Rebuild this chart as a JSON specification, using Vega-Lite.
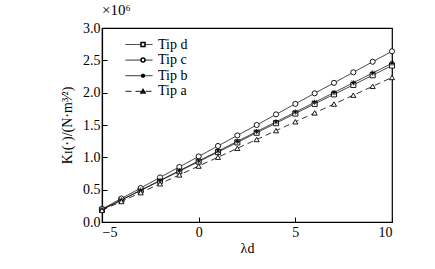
{
  "$schema": "https://vega.github.io/schema/vega-lite/v6.json",
  "width": 290,
  "height": 194,
  "autosize": "none",
  "padding": {"left": 102, "top": 28, "right": 43, "bottom": 47},
  "background": "white",
  "config": {
    "font": "Liberation Serif, Times New Roman, serif",
    "view": {"stroke": "black", "strokeWidth": 1.2},
    "title": {"font": "Liberation Serif, Times New Roman, serif", "fontSize": 15, "fontWeight": "normal", "color": "black"},
    "legend": {"labelFont": "Liberation Serif, Times New Roman, serif", "labelFontSize": 14, "labelColor": "black"},
    "axis": {"grid": false, "domainColor": "black", "tickColor": "black", "labelColor": "black", "titleColor": "black", "labelFont": "Liberation Serif, Times New Roman, serif", "titleFont": "Liberation Serif, Times New Roman, serif", "labelFontSize": 14, "titleFontSize": 14, "titleFontWeight": "normal", "tickSize": -5, "domainWidth": 1.2, "tickWidth": 1}
  },
  "title": {"text": "×10⁶", "anchor": "start", "frame": "group", "offset": 3, "dx": 0},
  "data": {"values": [
    {"x": -5, "y": 0.19, "tip": "Tip d", "mk": "Tip d"}, {"x": -4, "y": 0.339, "tip": "Tip d", "mk": "Tip d"}, {"x": -3, "y": 0.487, "tip": "Tip d", "mk": "Tip d"}, {"x": -2, "y": 0.636, "tip": "Tip d", "mk": "Tip d"}, {"x": -1, "y": 0.784, "tip": "Tip d", "mk": "Tip d"}, {"x": 0, "y": 0.934, "tip": "Tip d", "mk": "Tip d"}, {"x": 1, "y": 1.082, "tip": "Tip d", "mk": "Tip d"}, {"x": 2, "y": 1.231, "tip": "Tip d", "mk": "Tip d"}, {"x": 3, "y": 1.38, "tip": "Tip d", "mk": "Tip d"}, {"x": 4, "y": 1.528, "tip": "Tip d", "mk": "Tip d"}, {"x": 5, "y": 1.677, "tip": "Tip d", "mk": "Tip d"}, {"x": 6, "y": 1.826, "tip": "Tip d", "mk": "Tip d"}, {"x": 7, "y": 1.974, "tip": "Tip d", "mk": "Tip d"}, {"x": 8, "y": 2.12, "tip": "Tip d", "mk": "Tip d"}, {"x": 9, "y": 2.27, "tip": "Tip d", "mk": "Tip d"}, {"x": 10, "y": 2.42, "tip": "Tip d", "mk": "Tip d"},
    {"x": -5, "y": 0.2, "tip": "Tip c", "mk": "Tip c"}, {"x": -4, "y": 0.363, "tip": "Tip c", "mk": "Tip c"}, {"x": -3, "y": 0.525, "tip": "Tip c", "mk": "Tip c"}, {"x": -2, "y": 0.689, "tip": "Tip c", "mk": "Tip c"}, {"x": -1, "y": 0.851, "tip": "Tip c", "mk": "Tip c"}, {"x": 0, "y": 1.014, "tip": "Tip c", "mk": "Tip c"}, {"x": 1, "y": 1.176, "tip": "Tip c", "mk": "Tip c"}, {"x": 2, "y": 1.339, "tip": "Tip c", "mk": "Tip c"}, {"x": 3, "y": 1.5, "tip": "Tip c", "mk": "Tip c"}, {"x": 4, "y": 1.664, "tip": "Tip c", "mk": "Tip c"}, {"x": 5, "y": 1.827, "tip": "Tip c", "mk": "Tip c"}, {"x": 6, "y": 1.99, "tip": "Tip c", "mk": "Tip c"}, {"x": 7, "y": 2.152, "tip": "Tip c", "mk": "Tip c"}, {"x": 8, "y": 2.315, "tip": "Tip c", "mk": "Tip c"}, {"x": 9, "y": 2.478, "tip": "Tip c", "mk": "Tip c"}, {"x": 10, "y": 2.64, "tip": "Tip c", "mk": "Tip c"},
    {"x": -5, "y": 0.19, "tip": "Tip b", "mk": "Tip b"}, {"x": -4, "y": 0.341, "tip": "Tip b", "mk": "Tip b"}, {"x": -3, "y": 0.492, "tip": "Tip b", "mk": "Tip b"}, {"x": -2, "y": 0.643, "tip": "Tip b", "mk": "Tip b"}, {"x": -1, "y": 0.794, "tip": "Tip b", "mk": "Tip b"}, {"x": 0, "y": 0.945, "tip": "Tip b", "mk": "Tip b"}, {"x": 1, "y": 1.096, "tip": "Tip b", "mk": "Tip b"}, {"x": 2, "y": 1.247, "tip": "Tip b", "mk": "Tip b"}, {"x": 3, "y": 1.398, "tip": "Tip b", "mk": "Tip b"}, {"x": 4, "y": 1.549, "tip": "Tip b", "mk": "Tip b"}, {"x": 5, "y": 1.7, "tip": "Tip b", "mk": "Tip b"}, {"x": 6, "y": 1.851, "tip": "Tip b", "mk": "Tip b"}, {"x": 7, "y": 2.002, "tip": "Tip b", "mk": "Tip b"}, {"x": 8, "y": 2.153, "tip": "Tip b", "mk": "Tip b"}, {"x": 9, "y": 2.304, "tip": "Tip b", "mk": "Tip b"}, {"x": 10, "y": 2.455, "tip": "Tip b", "mk": "Tip b"},
    {"x": -5, "y": 0.18, "tip": "Tip a", "mk": "Tip a"}, {"x": -4, "y": 0.317, "tip": "Tip a", "mk": "Tip a"}, {"x": -3, "y": 0.454, "tip": "Tip a", "mk": "Tip a"}, {"x": -2, "y": 0.591, "tip": "Tip a", "mk": "Tip a"}, {"x": -1, "y": 0.728, "tip": "Tip a", "mk": "Tip a"}, {"x": 0, "y": 0.865, "tip": "Tip a", "mk": "Tip a"}, {"x": 1, "y": 1.002, "tip": "Tip a", "mk": "Tip a"}, {"x": 2, "y": 1.139, "tip": "Tip a", "mk": "Tip a"}, {"x": 3, "y": 1.276, "tip": "Tip a", "mk": "Tip a"}, {"x": 4, "y": 1.413, "tip": "Tip a", "mk": "Tip a"}, {"x": 5, "y": 1.55, "tip": "Tip a", "mk": "Tip a"}, {"x": 6, "y": 1.687, "tip": "Tip a", "mk": "Tip a"}, {"x": 7, "y": 1.824, "tip": "Tip a", "mk": "Tip a"}, {"x": 8, "y": 1.961, "tip": "Tip a", "mk": "Tip a"}, {"x": 9, "y": 2.098, "tip": "Tip a", "mk": "Tip a"}, {"x": 10, "y": 2.235, "tip": "Tip a", "mk": "Tip a"}
  ]},
  "encoding": {
    "x": {"field": "x", "type": "quantitative", "scale": {"domain": [-5, 10], "nice": false, "zero": false}, "axis": {"values": [-5, 0, 5, 10], "title": "λd", "labelPadding": 8, "titlePadding": 2}},
    "y": {"field": "y", "type": "quantitative", "scale": {"domain": [0, 3], "nice": false}, "axis": {"values": [0, 0.5, 1, 1.5, 2, 2.5, 3], "format": ".1f", "title": "Kɪ(·)/(N·m³⁄²)", "labelPadding": 7, "titlePadding": 8}}
  },
  "layer": [
    {
      "mark": {"type": "line", "color": "black", "strokeWidth": 0.8},
      "encoding": {
        "strokeDash": {"field": "tip", "type": "nominal", "sort": "descending", "scale": {"range": [[1, 0], [1, 0], [1, 0], [6, 4]]},
          "legend": {"orient": "none", "legendX": 23, "legendY": 9, "title": null, "symbolType": "M-1,0H1", "symbolSize": 729, "symbolStrokeWidth": 0.9, "symbolStrokeColor": "black", "clipHeight": 15, "rowPadding": 0.6, "labelOffset": 5}}
      }
    },
    {
      "mark": {"type": "point", "filled": true, "fill": "white", "stroke": "black", "strokeWidth": 0.9, "size": 26, "opacity": 1},
      "encoding": {
        "shape": {"field": "mk", "type": "nominal", "sort": "descending", "scale": {"range": ["square", "circle", "M-1,0H1M0,-1V1M-0.75,-0.75L0.75,0.75M-0.75,0.75L0.75,-0.75", "triangle-up"]},
          "legend": {"orient": "none", "legendX": 34, "legendY": 9, "title": null, "symbolSize": 16, "clipHeight": 15, "rowPadding": 0.6, "labelExpr": "''", "labelFontSize": 14,
            "encoding": {"symbols": {"update": {"stroke": {"value": "black"}, "strokeWidth": {"value": 0.9}, "fill": {"value": "white"}, "opacity": {"value": 1}, "size": {"value": 16}}}}}}
      }
    }
  ]
}
